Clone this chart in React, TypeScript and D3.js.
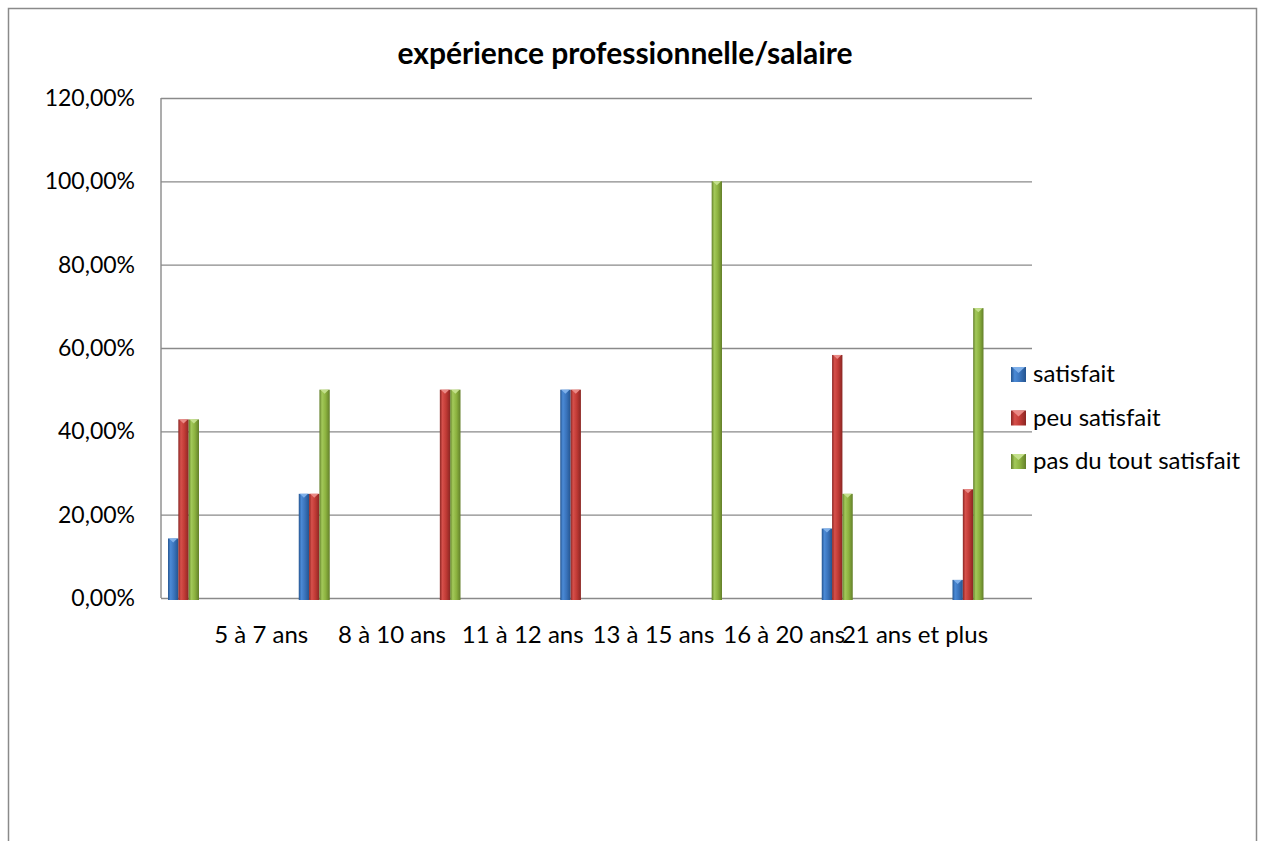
import React, { useEffect, useRef } from 'react';
import * as d3 from 'd3';

// categories (first group has no label on the axis)
const categories = ['', '5 à 7 ans', '8 à 10 ans', '11 à 12 ans', '13 à 15 ans', '16 à 20 ans', '21 ans et plus'];
const seriesNames = ['satisfait', 'peu satisfait', 'pas du tout satisfait'];
const satisfait = [0.1429, 0.25, 0, 0.5, 0, 0.1667, 0.0435];
const peuSatisfait = [0.4286, 0.25, 0.5, 0.5, 0, 0.5833, 0.2609];
const pasDuToutSatisfait = [0.4286, 0.5, 0.5, 0, 1, 0.25, 0.6957];
const yTicks = [0, 0.2, 0.4, 0.6, 0.8, 1, 1.2];
const chartTitle = 'expérience professionnelle/salaire';

const seriesColors = [
    { dark: '#24548f', light: '#4b8ad6', base: '#3a73bb', cap: '#7fb0ea' },
    { dark: '#8a2623', light: '#d6504b', base: '#c03a35', cap: '#ea8a86' },
    { dark: '#637f2a', light: '#a3c95a', base: '#8cb23f', cap: '#c4e08c' },
];

const App: React.FC = () => {
    const containerRef = useRef<HTMLDivElement>(null);

    useEffect(() => {
        if (!containerRef.current) return;
        const container = d3.select(containerRef.current);

        const width = 1261;
        const height = 841;
        const plot = { left: 161, right: 1032, top: 98, bottom: 598 };
        const font = 'Lato, "Open Sans", sans-serif';

        const values = [satisfait, peuSatisfait, pasDuToutSatisfait];

        const xScale = d3.scalePoint<string>().domain(categories.map((c, i) => String(i))).range([183.5, 968]);
        const innerScale = d3.scaleBand<string>().domain(seriesNames).range([-15.5, 15.5]).padding(0);
        const yScale = d3.scaleLinear().domain([0, 1.2]).range([plot.bottom, plot.top]);

        const locale = d3.formatLocale({ decimal: ',', thousands: ' ', grouping: [3], currency: ['', '€'] });
        const pct = locale.format('.2%');

        const svg = container
            .append('svg')
            .attr('width', width)
            .attr('height', height)
            .style('position', 'absolute')
            .style('left', 0)
            .style('top', 0)
            .style('font-family', font);

        // Gradients for the bars
        const defs = svg.append('defs');
        seriesColors.forEach((c, i) => {
            const g = defs.append('linearGradient').attr('id', `bar-grad-${i}`).attr('x1', '0%').attr('x2', '100%');
            g.append('stop').attr('offset', '0%').attr('stop-color', c.dark);
            g.append('stop').attr('offset', '25%').attr('stop-color', c.light);
            g.append('stop').attr('offset', '60%').attr('stop-color', c.base);
            g.append('stop').attr('offset', '100%').attr('stop-color', c.dark);
        });

        // Outer frame
        svg.append('rect')
            .attr('x', 8.5).attr('y', 8.5)
            .attr('width', 1248).attr('height', 860)
            .attr('fill', 'white')
            .attr('stroke', '#8a8a8a')
            .attr('stroke-width', 1.5);

        // Title
        svg.append('text')
            .attr('x', 625).attr('y', 64)
            .attr('text-anchor', 'middle')
            .attr('font-size', 30)
            .attr('font-weight', 'bold')
            .attr('fill', '#000')
            .text(chartTitle);

        // Gridlines + y axis labels
        const yAxis = d3.axisLeft(yScale)
            .tickValues(yTicks)
            .tickSize(-(plot.right - plot.left))
            .tickPadding(26)
            .tickFormat((d) => pct(d as number));

        const yG = svg.append('g')
            .attr('transform', `translate(${plot.left},0)`)
            .call(yAxis);
        yG.select('.domain').remove();
        yG.selectAll('.tick line').attr('stroke', '#8a8a8a').attr('stroke-width', 1.4);
        yG.selectAll('.tick text')
            .attr('font-size', 23)
            .attr('font-family', font)
            .attr('fill', '#000');

        // left axis line
        svg.append('line')
            .attr('x1', plot.left).attr('x2', plot.left)
            .attr('y1', plot.top).attr('y2', plot.bottom)
            .attr('stroke', '#8a8a8a').attr('stroke-width', 1.4);

        // Bars
        values.forEach((series, si) => {
            const g = svg.append('g');
            const bw = innerScale.bandwidth();
            const data = series
                .map((v, ci) => ({ v, ci }))
                .filter((d) => d.v > 0);
            const bx = (d: { ci: number }) => (xScale(String(d.ci)) as number) + (innerScale(seriesNames[si]) as number);

            g.selectAll('rect.bar')
                .data(data)
                .enter()
                .append('rect')
                .attr('class', 'bar')
                .attr('x', (d) => bx(d))
                .attr('y', (d) => yScale(d.v))
                .attr('width', bw)
                .attr('height', (d) => yScale(0) - yScale(d.v) + 2)
                .attr('fill', `url(#bar-grad-${si})`);

            // bevelled top
            g.selectAll('polygon.cap')
                .data(data)
                .enter()
                .append('polygon')
                .attr('class', 'cap')
                .attr('points', (d) => {
                    const x0 = bx(d);
                    const y0 = yScale(d.v);
                    return `${x0 + 1},${y0} ${x0 + bw - 1},${y0} ${x0 + bw / 2},${y0 + 4}`;
                })
                .attr('fill', seriesColors[si].cap);
        });

        // Category labels
        svg.append('g')
            .selectAll('text')
            .data(categories.map((c, i) => ({ c, i })))
            .enter()
            .append('text')
            .attr('x', (d) => (xScale(String(d.i)) as number) - 53)
            .attr('y', 643)
            .attr('text-anchor', 'middle')
            .attr('font-size', 24)
            .attr('fill', '#000')
            .text((d) => d.c);

        // Legend
        const legend = svg.append('g').attr('transform', 'translate(1011,367)');
        seriesNames.forEach((name, i) => {
            const row = legend.append('g').attr('transform', `translate(0,${i * 43.5})`);
            row.append('rect')
                .attr('width', 15).attr('height', 15)
                .attr('fill', `url(#bar-grad-${i})`);
            row.append('polygon')
                .attr('points', '1,0 14,0 7.5,6')
                .attr('fill', seriesColors[i].cap);
            row.append('text')
                .attr('x', 22).attr('y', 15)
                .attr('font-size', 24)
                .attr('fill', '#000')
                .text(name);
        });

        return () => {
            svg.remove();
        };
    }, []);

    return <div ref={containerRef} />;
};

export default App;
